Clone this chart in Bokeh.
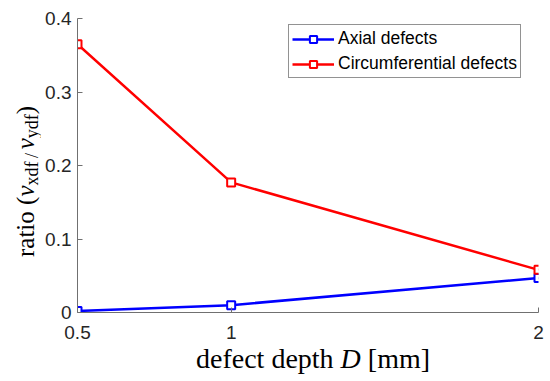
from bokeh.plotting import figure
from bokeh.models import Range1d, FixedTicker, Legend, LegendItem, Div
from bokeh.layouts import row, column
from bokeh.embed import file_html
from bokeh.resources import INLINE

# ---- data ----
depth = [0.5, 1, 2]
axial = [0.002, 0.010, 0.047]
circumferential = [0.365, 0.177, 0.058]
series_names = ["Axial defects", "Circumferential defects"]
x_ticks = [0.5, 1, 2]
x_tick_labels = ["0.5", "1", "2"]
y_ticks = [0, 0.1, 0.2, 0.3, 0.4]
y_tick_labels = ["0", "0.1", "0.2", "0.3", "0.4"]

AX = "#262626"
SANS = "Liberation Sans"
SERIF = "'Liberation Serif', 'Times New Roman', serif"

YW = 40      # width of the y-label strip
FIG_H = 345  # height of the chart figure

p = figure(width=550 - YW, height=FIG_H, output_backend="svg", toolbar_location=None,
           x_range=Range1d(0.5, 2), y_range=Range1d(0, 0.4),
           min_border_left=37, min_border_right=12, min_border_top=18, min_border_bottom=33,
           margin=0)
p.xgrid.visible = False
p.ygrid.visible = False
p.outline_line_color = None
p.background_fill_color = "white"
p.border_fill_color = "white"

for ax, ticks, labels in ((p.xaxis[0], x_ticks, x_tick_labels), (p.yaxis[0], y_ticks, y_tick_labels)):
    ax.ticker = FixedTicker(ticks=ticks)
    ax.major_label_overrides = {t: l for t, l in zip(ticks, labels)}
    ax.minor_tick_line_color = None
    ax.major_tick_in = 5
    ax.major_tick_out = 0
    ax.axis_line_color = "#707070"
    ax.major_tick_line_color = "#707070"
    ax.major_label_text_font = SANS
    ax.major_label_text_font_size = "19px"
    ax.major_label_text_color = AX
p.xaxis[0].major_label_standoff = 13
p.yaxis[0].major_label_standoff = 6

r1 = p.line(depth, axial, line_color="#0000ff", line_width=2.5)
m1 = p.scatter(depth, axial, marker="square", size=8, line_color="#0000ff", fill_color="white", line_width=2)
r2 = p.line(depth, circumferential, line_color="#ff0000", line_width=2.5)
m2 = p.scatter(depth, circumferential, marker="square", size=8, line_color="#ff0000", fill_color="white", line_width=2)

legend = Legend(items=[LegendItem(label=series_names[0], renderers=[r1, m1]),
                       LegendItem(label=series_names[1], renderers=[r2, m2])],
                location=(211, 234), glyph_width=42, glyph_height=18, label_height=18,
                label_standoff=4, padding=3, spacing=4, margin=0,
                label_text_font=SANS, label_text_font_size="17.5px", label_text_color="#000000",
                border_line_color=AX, border_line_width=1, background_fill_alpha=1)
p.add_layout(legend, "center")

# ---- axis titles (HTML, real text) ----
sub = "font-size:18px; position:relative; top:4px;"
ylabel_html = (
    f'<div style="white-space:nowrap; width:max-content; font-family:{SERIF}; font-size:25px; '
    f'line-height:25px; color:#000; transform-origin:0 0; transform:translate(13px, 257px) rotate(-90deg);">'
    f'ratio (<i>\u03bd</i><span style="{sub}">xdf</span>'
    f'<span style="{sub}">&#8201;/&#8201;</span>'
    f'<i>\u03bd</i><span style="{sub}">ydf</span>)</div>'
)
xlabel_html = (
    f'<div style="white-space:nowrap; width:max-content; font-family:{SERIF}; font-size:28px; '
    f'line-height:28px; color:#000; margin-left:196px; margin-top:0px;">'
    f'defect depth <i>D</i> [mm]</div>'
)

ydiv = Div(text=ylabel_html, width=YW, height=FIG_H, margin=0)
xdiv = Div(text=xlabel_html, width=550, height=381 - FIG_H, margin=0)

layout = column(row(ydiv, p, spacing=0, margin=0), xdiv, spacing=0, margin=0)

open("out.html", "w").write(file_html(layout, INLINE))
